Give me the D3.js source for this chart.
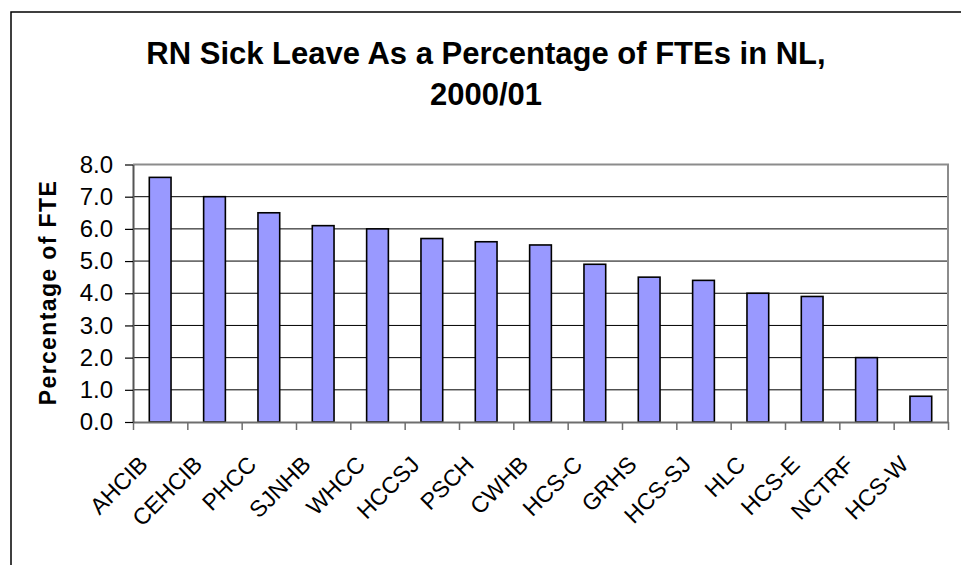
<!DOCTYPE html>
<html>
<head>
<meta charset="utf-8">
<script src="https://cdn.jsdelivr.net/npm/d3@7"></script>
<style>
  html, body { margin: 0; padding: 0; background: #fff; }
  svg { display: block; font-family: "Liberation Sans", Arial, sans-serif; }
</style>
</head>
<body>
<svg id="chart" width="961" height="565"></svg>
<script>
// Health boards / institutions, ordered by sick-leave rate
const categories = ["AHCIB", "CEHCIB", "PHCC", "SJNHB", "WHCC", "HCCSJ", "PSCH", "CWHB",
                    "HCS-C", "GRHS", "HCS-SJ", "HLC", "HCS-E", "NCTRF", "HCS-W"];
// RN sick leave as a percentage of FTEs, 2000/01
const sickLeave = [7.6, 7.0, 6.5, 6.1, 6.0, 5.7, 5.6, 5.5, 4.9, 4.5, 4.4, 4.0, 3.9, 2.0, 0.8];
const yTicks = [0, 1, 2, 3, 4, 5, 6, 7, 8];
const titleLines = ["RN Sick Leave As a Percentage of FTEs in NL,", "2000/01"];
const yTitle = "Percentage of FTE";

const svg = d3.select("#chart");
const plot = { left: 133, right: 948, top: 164.5, bottom: 422 };

// outer chart frame
svg.append("rect")
  .attr("x", 11).attr("y", 12)
  .attr("width", 970).attr("height", 580)
  .attr("fill", "#fff").attr("stroke", "#000").attr("stroke-width", 1.5);

const x = d3.scaleBand()
  .domain(categories)
  .range([plot.left, plot.right])
  .paddingInner(0.6)
  .paddingOuter(0.3);

const xEdges = d3.scaleLinear().domain([0, categories.length]).range([plot.left, plot.right]);

const y = d3.scaleLinear().domain([0, 8]).range([plot.bottom, plot.top]);

// gridlines
svg.append("g")
  .selectAll("line")
  .data(yTicks.filter(d => d > 0 && d < 8))
  .join("line")
  .attr("x1", plot.left).attr("x2", plot.right)
  .attr("y1", d => y(d)).attr("y2", d => y(d))
  .attr("stroke", "#000").attr("stroke-width", 1);

// plot-area border (top and right)
svg.append("path")
  .attr("d", `M${plot.left},${y(8)}H${plot.right}V${plot.bottom}`)
  .attr("fill", "none").attr("stroke", "#8c8c8c").attr("stroke-width", 2);

// bars
svg.append("g")
  .selectAll("rect")
  .data(categories.map((c, i) => ({ c, v: sickLeave[i] })))
  .join("rect")
  .attr("x", d => x(d.c))
  .attr("y", d => y(d.v))
  .attr("width", x.bandwidth())
  .attr("height", d => y(0) - y(d.v))
  .attr("fill", "#9999ff")
  .attr("stroke", "#000")
  .attr("stroke-width", 1.6);

// x axis: line with tick marks on category boundaries
const xAxisG = svg.append("g")
  .attr("transform", `translate(0,${plot.bottom})`)
  .call(d3.axisBottom(xEdges)
    .tickValues(d3.range(0, categories.length + 1))
    .tickFormat("")
    .tickSize(8)
    .tickSizeOuter(0));
xAxisG.select(".domain").attr("stroke", "#6e6e6e").attr("stroke-width", 2);
xAxisG.selectAll(".tick line").attr("stroke", "#6e6e6e").attr("stroke-width", 1.5);

// rotated category labels
svg.append("g")
  .selectAll("text")
  .data(categories)
  .join("text")
  .attr("transform", d => `translate(${x(d) + x.bandwidth() / 2 - 11},${plot.bottom + 44}) rotate(-45)`)
  .attr("text-anchor", "end")
  .attr("font-size", 23)
  .attr("fill", "#000")
  .text(d => d);

// y axis
const yAxisG = svg.append("g")
  .attr("transform", `translate(${plot.left},0)`)
  .call(d3.axisLeft(y)
    .tickValues(yTicks)
    .tickFormat(d3.format(".1f"))
    .tickSize(8)
    .tickSizeOuter(0)
    .tickPadding(12));
yAxisG.select(".domain").attr("stroke", "#555").attr("stroke-width", 2);
yAxisG.selectAll(".tick line").attr("stroke", "#000").attr("stroke-width", 1.2);
yAxisG.selectAll(".tick text")
  .attr("font-size", 24)
  .attr("font-family", "'Liberation Sans', Arial, sans-serif")
  .attr("fill", "#000");

// y axis title
svg.append("text")
  .attr("transform", `translate(56,${(plot.top + plot.bottom) / 2}) rotate(-90)`)
  .attr("text-anchor", "middle")
  .attr("font-size", 23)
  .attr("font-weight", "bold")
  .attr("textLength", 224)
  .attr("lengthAdjust", "spacing")
  .text(yTitle);

// chart title
svg.append("g")
  .selectAll("text")
  .data(titleLines)
  .join("text")
  .attr("x", 486)
  .attr("y", (d, i) => 64 + i * 41)
  .attr("text-anchor", "middle")
  .attr("font-size", 31)
  .attr("font-weight", "bold")
  .text(d => d);
</script>
</body>
</html>
